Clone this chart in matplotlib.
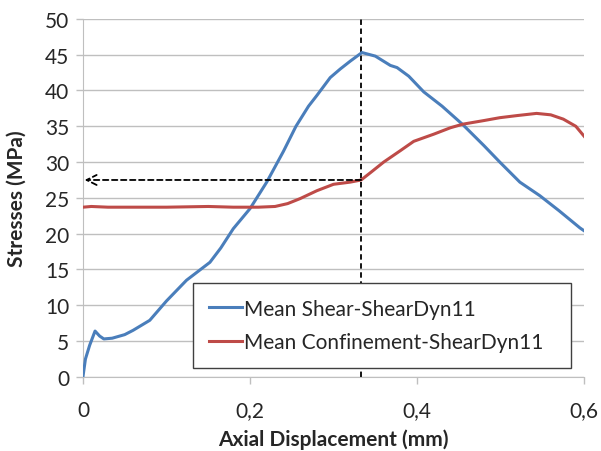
import matplotlib.pyplot as plt
from matplotlib.ticker import MultipleLocator

# Mean shear stress curve
shear_x = [0.0, 0.003, 0.008, 0.0145, 0.02, 0.025, 0.035, 0.05, 0.06, 0.08, 0.1,
           0.124, 0.152, 0.165, 0.18, 0.2, 0.22, 0.24, 0.255, 0.27, 0.28, 0.296,
           0.308, 0.32, 0.334, 0.35, 0.368, 0.376, 0.39, 0.408, 0.43, 0.455,
           0.48, 0.499, 0.523, 0.547, 0.57, 0.595, 0.6]
shear_y = [0.0, 2.5, 4.4, 6.4, 5.7, 5.3, 5.4, 5.9, 6.5, 7.9, 10.6,
           13.5, 16.0, 18.0, 20.7, 23.5, 27.2, 31.5, 35.0, 37.8, 39.3, 41.8,
           43.0, 44.1, 45.3, 44.8, 43.5, 43.2, 42.0, 39.8, 37.8, 35.2,
           32.3, 30.0, 27.2, 25.3, 23.2, 20.8, 20.4]

# Mean confinement stress curve
conf_x = [0.0, 0.01, 0.03, 0.06, 0.1, 0.15, 0.18, 0.21, 0.23, 0.245, 0.26,
          0.28, 0.3, 0.32, 0.333, 0.345, 0.36, 0.38, 0.396, 0.42, 0.44,
          0.455, 0.48, 0.499, 0.52, 0.543, 0.56, 0.575, 0.59, 0.6]
conf_y = [23.7, 23.8, 23.7, 23.7, 23.7, 23.8, 23.7, 23.7, 23.8, 24.2, 24.9,
          26.0, 26.9, 27.2, 27.5, 28.6, 30.0, 31.6, 32.9, 33.9, 34.8,
          35.3, 35.8, 36.2, 36.5, 36.8, 36.6, 36.0, 35.0, 33.6]

peak_x = 0.333
peak_conf = 27.5

x_ticks = [0.0, 0.2, 0.4, 0.6]
x_ticklabels = ["0", "0,2", "0,4", "0,6"]

plt.rcParams["font.family"] = ["Lato", "DejaVu Sans"]
fs = 15

fig = plt.figure(figsize=(6.01, 4.52), dpi=100)
ax = fig.add_axes([0.138, 0.164, 0.834, 0.792])

grid_col = "#bfbfbf"
ax.set_xlim(0, 0.6)
ax.set_ylim(0, 50)
ax.yaxis.set_major_locator(MultipleLocator(5))
ax.set_xticks(x_ticks)
ax.set_xticklabels(x_ticklabels)
ax.grid(axis="y", color=grid_col, linewidth=1)
ax.set_axisbelow(True)
for side in ["top", "right"]:
    ax.spines[side].set_visible(False)
for side in ["left", "bottom"]:
    ax.spines[side].set_color(grid_col)
ax.tick_params(axis="both", colors=grid_col, labelcolor="#262626",
               labelsize=fs, length=5, width=1)
ax.tick_params(axis="x", pad=12)
ax.tick_params(axis="y", pad=5)

ax.plot(shear_x, shear_y, color="#4a7ebb", linewidth=2.2,
        label="Mean Shear-ShearDyn11", zorder=3)
ax.plot(conf_x, conf_y, color="#be4b48", linewidth=2.2,
        label="Mean Confinement-ShearDyn11", zorder=3)

# marker lines at the shear peak
ax.plot([peak_x, peak_x], [0, 50], color="black", linestyle=(0, (3, 2)),
        linewidth=1.3, zorder=2)
ax.annotate("", xy=(0.002, peak_conf), xytext=(peak_x, peak_conf),
            arrowprops=dict(arrowstyle="->", color="black", linewidth=1.3,
                            linestyle=(0, (3, 2)), shrinkA=0, shrinkB=0,
                            mutation_scale=18),
            zorder=4)

ax.set_xlabel("Axial Displacement (mm)", fontsize=fs, fontweight="bold",
              color="#262626", labelpad=6)
ax.set_ylabel("Stresses (MPa)", fontsize=fs, fontweight="bold",
              color="#262626", labelpad=13)

leg = ax.legend(loc="lower left", bbox_to_anchor=(0.22, 0.025, 0.754, 0.235),
                mode="expand", fontsize=fs, fancybox=False, framealpha=1,
                edgecolor="#404040", handlelength=1.6, handletextpad=0.1,
                labelspacing=0.65, borderpad=0.75, borderaxespad=0)
leg.get_frame().set_linewidth(1)
leg.set_zorder(5)
for t in leg.get_texts():
    t.set_color("#262626")

plt.savefig("out.png", dpi=100)
plt.close()
